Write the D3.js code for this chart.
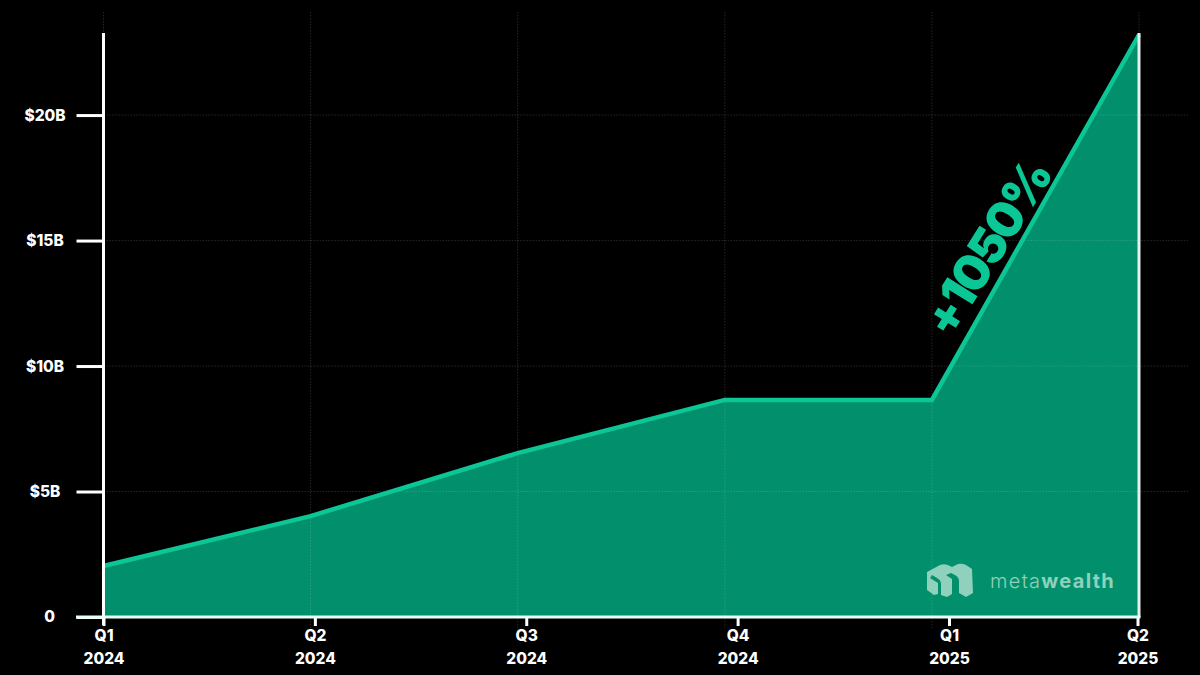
<!DOCTYPE html>
<html>
<head>
<meta charset="utf-8">
<script src="https://cdn.jsdelivr.net/npm/d3@7"></script>
<style>
  html, body { margin: 0; padding: 0; background: #000; }
  svg { display: block; }
  svg text { font-family: Inter, "Open Sans", sans-serif; }
</style>
</head>
<body>
<div id="chart"></div>
<script>
const quarters = ['Q1 2024', 'Q2 2024', 'Q3 2024', 'Q4 2024', 'Q1 2025', 'Q2 2025'];
const tvl = [2.03, 4.02, 6.53, 8.65, 8.65, 23.2];
const yTicks = [0, 5, 10, 15, 20];
const yLabels = ['0', '$5B', '$10B', '$15B', '$20B'];
const xLabelTop = ['Q1', 'Q2', 'Q3', 'Q4', 'Q1', 'Q2'];
const xLabelBottom = ['2024', '2024', '2024', '2024', '2025', '2025'];
const growthLabel = '+1050%';

const width = 1200;
const height = 675;

const svg = d3.select('#chart').append('svg')
  .attr('width', width)
  .attr('height', height);

svg.append('rect').attr('width', width).attr('height', height).attr('fill', '#000');

// Scales
const x = d3.scalePoint().domain(quarters).range([103.5, 1139]);
const y = d3.scaleLinear().domain([0, 23.27]).range([617, 33]);

// The labelled ticks sit on a slightly wider pitch than the data points
const tickX = d3.scaleLinear().domain([0, 4, 5]).range([103.5, 949, 1137.5]);

// Area and line
const area = d3.area()
  .x((d, i) => x(quarters[i]))
  .y0(y(0))
  .y1(d => y(d));

const line = d3.line()
  .x((d, i) => x(quarters[i]))
  .y(d => y(d));

svg.append('path').datum(tvl)
  .attr('d', area)
  .attr('fill', '#028f6b');

// Grid
const gridStyle = sel => sel
  .attr('stroke', '#fff')
  .attr('stroke-opacity', 0.15)
  .attr('stroke-width', 1)
  .attr('stroke-dasharray', '1.5 1.5');

svg.append('g').selectAll('line')
  .data(yTicks.slice(1))
  .enter().append('line')
  .attr('x1', 103.5).attr('x2', 1188)
  .attr('y1', d => y(d)).attr('y2', d => y(d))
  .call(gridStyle);

svg.append('g').selectAll('line')
  .data(quarters)
  .enter().append('line')
  .attr('x1', d => x(d)).attr('x2', d => x(d))
  .attr('y1', 12).attr('y2', 628)
  .call(gridStyle);

svg.append('path').datum(tvl)
  .attr('d', line)
  .attr('fill', 'none')
  .attr('stroke', '#0bc795')
  .attr('stroke-width', 4.5);

// Axes
const styleAxis = g => {
  g.attr('font-family', null);
  g.selectAll('.domain').remove();
  g.selectAll('.tick line').attr('stroke', '#fff').attr('stroke-width', 3);
  g.selectAll('.tick text')
    .attr('fill', '#fff')
    .style('font-size', '15.5px')
    .style('font-weight', 800);
};

const yAxis = svg.append('g')
  .attr('transform', 'translate(103.5,0)')
  .call(d3.axisLeft(y)
    .tickValues(yTicks)
    .tickFormat((d, i) => yLabels[i])
    .tickSize(27))
  .call(styleAxis);

// y labels are centred in their gutter rather than right aligned
yAxis.selectAll('.tick text')
  .attr('text-anchor', 'middle')
  .attr('x', d => d === 0 ? -54 : -58.5)
  .attr('y', 0);

const xAxis = svg.append('g')
  .attr('transform', `translate(0,${y(0)})`)
  .call(d3.axisBottom(tickX)
    .tickValues(d3.range(quarters.length))
    .tickFormat('')
    .tickSize(9))
  .call(styleAxis);

xAxis.selectAll('.tick text')
  .attr('y', 0)
  .attr('dy', 0)
  .each(function(d, i) {
    const t = d3.select(this);
    t.append('tspan').attr('x', 0).attr('y', 24).text(xLabelTop[i]);
    t.append('tspan').attr('x', 0).attr('y', 46.5).text(xLabelBottom[i]);
  });

// Axis lines
svg.append('line')
  .attr('x1', 103.5).attr('x2', 103.5)
  .attr('y1', y.range()[1]).attr('y2', y(0) + 8)
  .attr('stroke', '#fff').attr('stroke-width', 3);

svg.append('line')
  .attr('x1', 1139).attr('x2', 1139)
  .attr('y1', y.range()[1]).attr('y2', y(0))
  .attr('stroke', '#e9efed').attr('stroke-width', 3);

svg.append('line')
  .attr('x1', 76).attr('x2', 1140.5)
  .attr('y1', y(0)).attr('y2', y(0))
  .attr('stroke', '#e8fff8').attr('stroke-width', 3);

// Growth annotation
svg.append('text')
  .attr('transform', 'translate(987,248) rotate(-58)')
  .attr('text-anchor', 'middle')
  .attr('dominant-baseline', 'central')
  .attr('fill', '#0bc795')
  .style('font-size', '49px')
  .style('font-weight', 900)
  .style('letter-spacing', '-2.5px')
  .text(growthLabel);

// Watermark
const logo = svg.append('g').attr('fill', '#8fd1bd');
logo.append('path')
  .attr('d', 'M927 572 L940 565 Q945 563 950 566 L952 567 L958 564 Q962 563 966 565 L972 569 L973 593 L966 597 L959 593 L959 581 Q959 577 955 575 L951 573 L946 575 L952 579 L952 594 L947 597 L941 595 L941 584 Q941 580 937 578 L932 575 L930 578 L938 583 L938 594 L934 595 L927 590 Z');
logo.append('text')
  .attr('x', 990).attr('y', 588)
  .style('font-size', '20px')
  .style('font-weight', 300)
  .style('letter-spacing', '1.3px')
  .text('meta')
  .append('tspan')
  .style('font-weight', 700)
  .text('wealth');
</script>
</body>
</html>
